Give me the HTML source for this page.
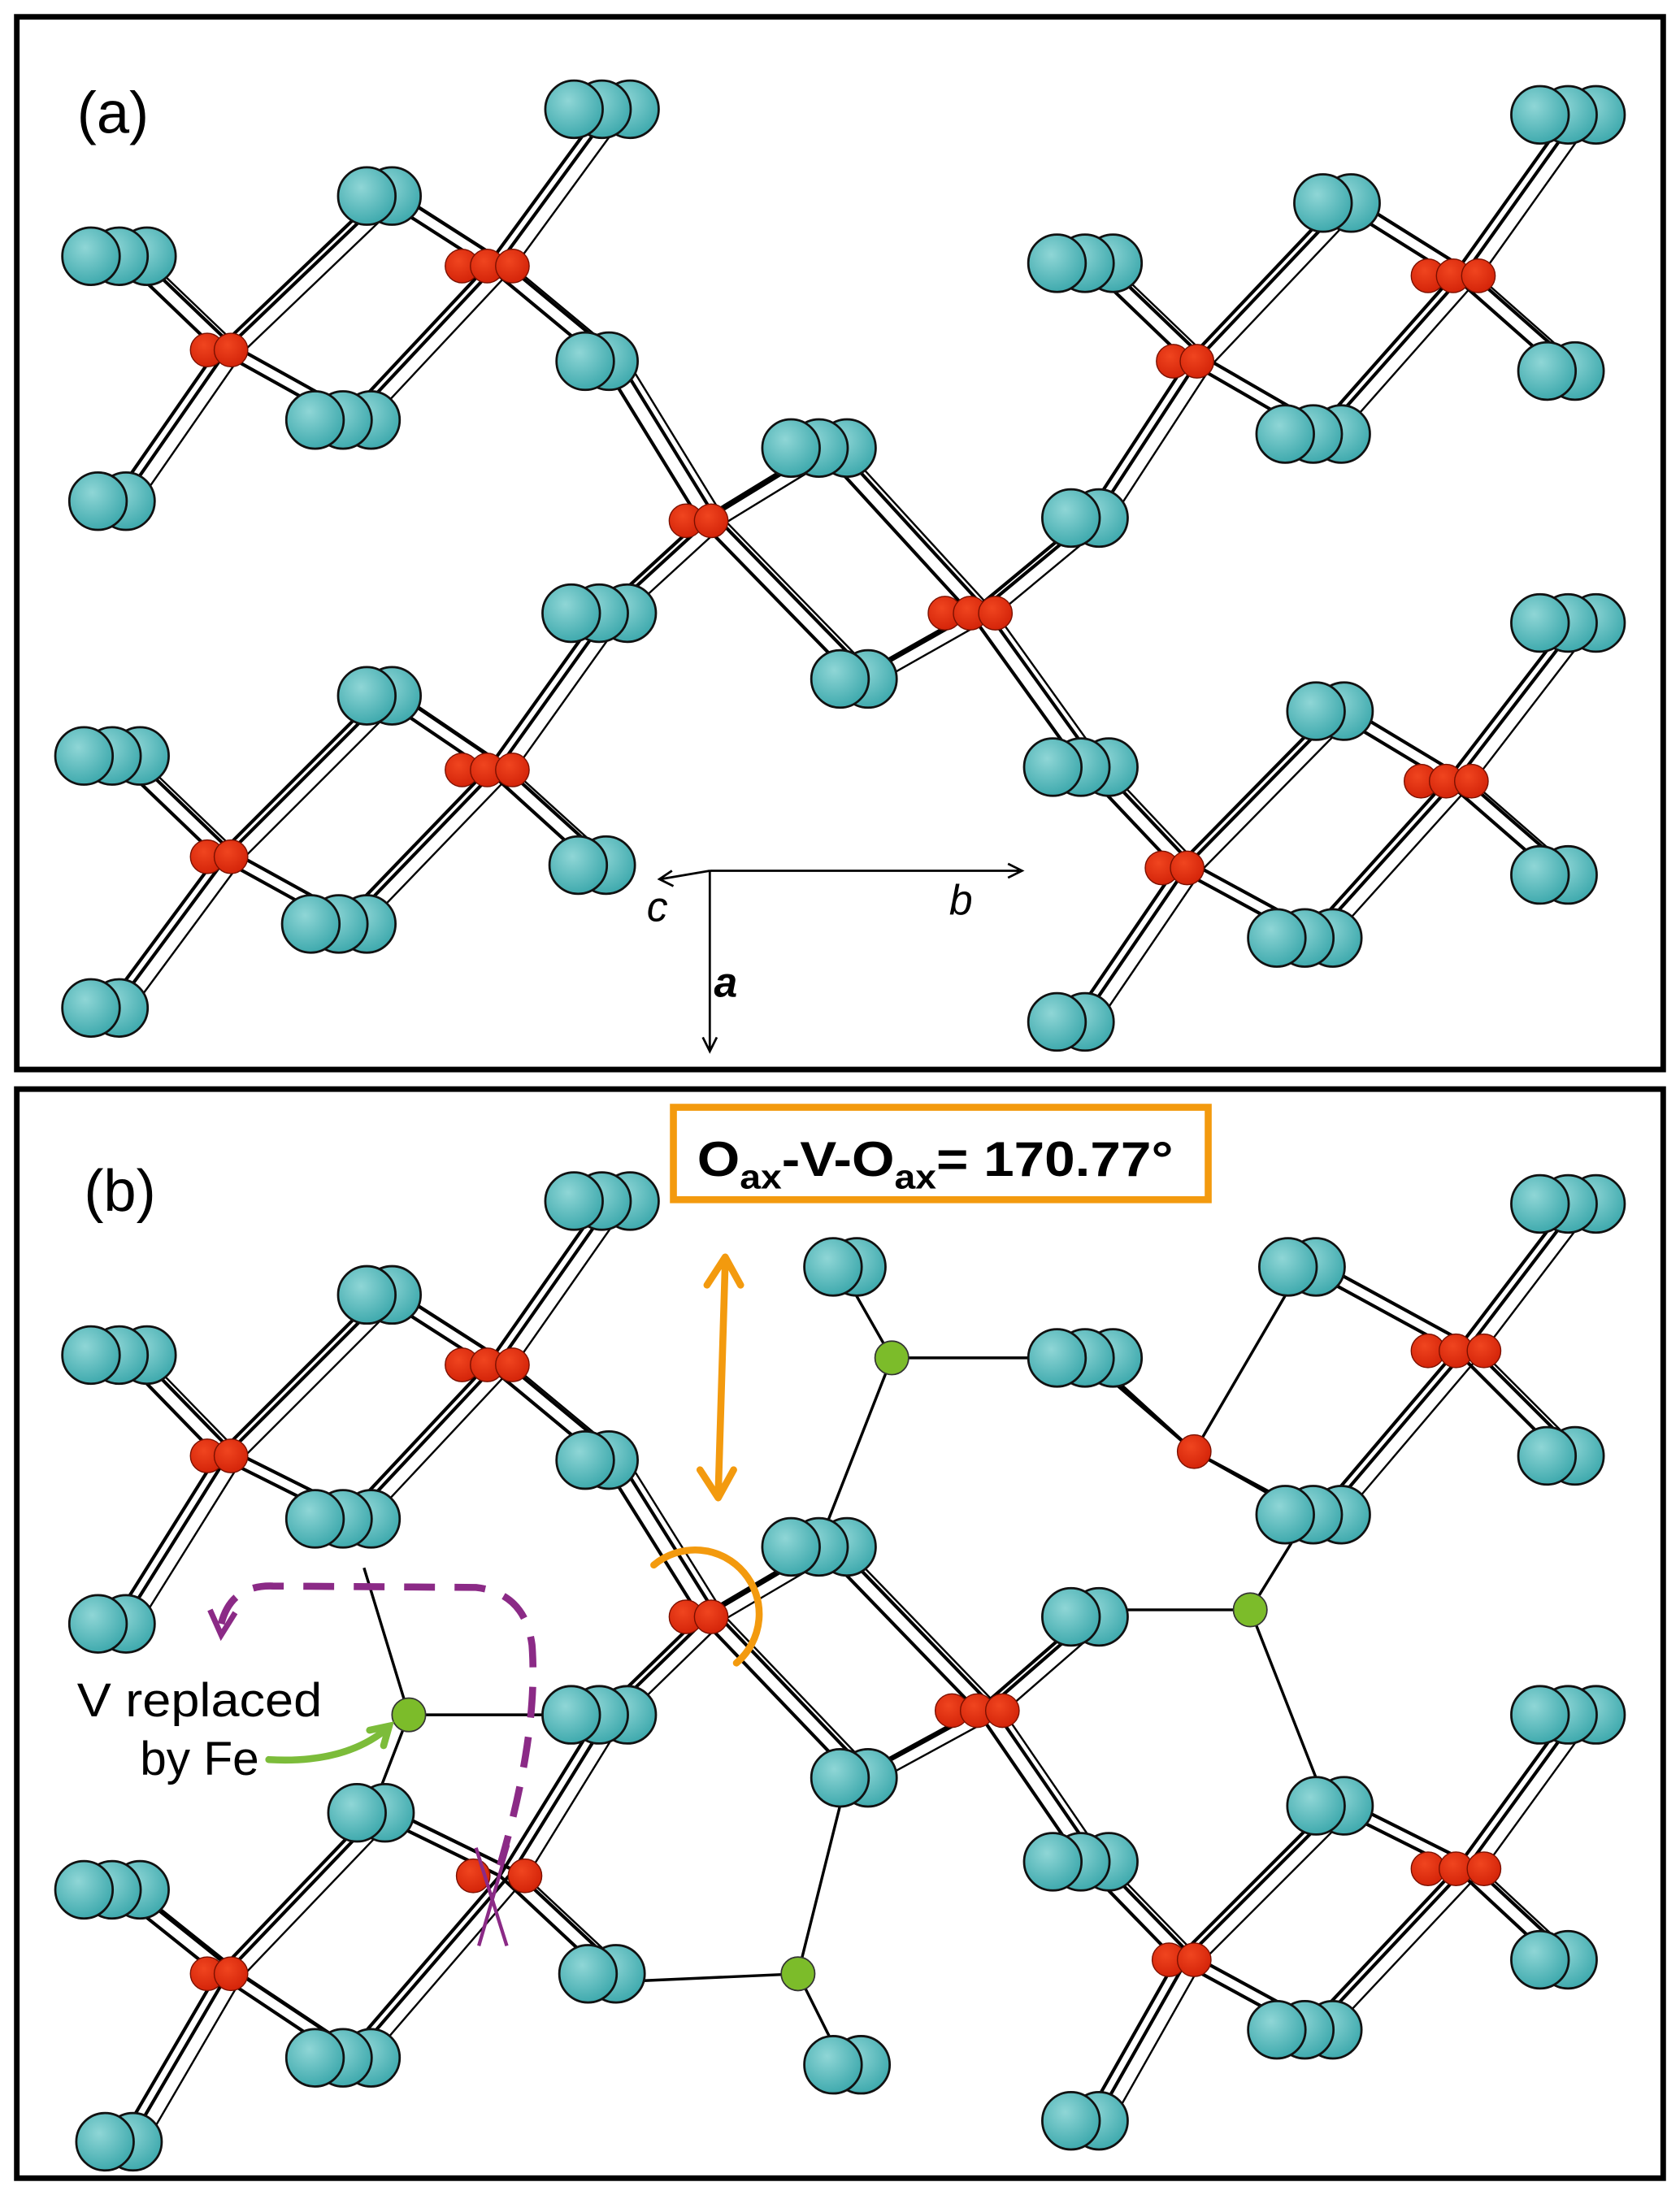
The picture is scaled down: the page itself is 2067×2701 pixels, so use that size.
<!DOCTYPE html>
<html><head><meta charset="utf-8"><style>html,body{margin:0;padding:0;background:#fff}svg{display:block}</style></head>
<body>
<svg width="2067" height="2701" viewBox="0 0 1200 1568" xmlns="http://www.w3.org/2000/svg">
<defs>
<radialGradient id="cg" cx="0.4" cy="0.35" r="0.7"><stop offset="0" stop-color="#8fd6d6"/><stop offset="1" stop-color="#3aa7ab"/></radialGradient>
<radialGradient id="rg" cx="0.4" cy="0.35" r="0.7"><stop offset="0" stop-color="#f0451f"/><stop offset="1" stop-color="#d22208"/></radialGradient>
<symbol id="c" overflow="visible"><circle r="20.5" fill="url(#cg)" stroke="#111" stroke-width="1.6"/></symbol>
<symbol id="r" overflow="visible"><circle r="12" fill="url(#rg)" stroke="#7a1000" stroke-width="0.8"/></symbol>
<symbol id="g" overflow="visible"><circle r="12" fill="#7cbc2a" stroke="#333" stroke-width="1"/></symbol>
</defs>
<rect width="1200" height="1568" fill="#fff"/>

<g id="bonds" stroke="#000" stroke-width="2.4" fill="none">
<path id="bp" d="
M155 250L85 183 M155 250L245 300 M155 250L80 358 M155 250L270 140
M348 190L270 140 M348 190L430 258 M348 190L430 78 M348 190L245 300
M500 372L430 258 M500 372L585 320 M500 372L428 438 M500 372L610 485
M693 438L585 320 M693 438L610 485 M693 438L775 370 M693 438L772 548
M848 258L775 188 M848 258L938 310 M848 258L775 370 M848 258L955 145
M1038 197L955 145 M1038 197L1120 82 M1038 197L1115 265 M1038 197L938 310
M155 612L80 540 M155 612L242 660 M155 612L75 720 M155 612L270 497
M348 550L270 497 M348 550L428 438 M348 550L423 618 M348 550L242 660
M840 620L772 548 M840 620L932 670 M840 620L765 730 M840 620L950 508
M1033 558L950 508 M1033 558L1120 445 M1033 558L1110 625 M1033 558L932 670
M155 1040L85 968 M155 1040L245 1085 M155 1040L80 1160 M155 1040L270 925
M348 975L270 925 M348 975L430 1043 M348 975L430 858 M348 975L245 1085
M500 1155L430 1043 M500 1155L585 1105 M500 1155L428 1225 M500 1155L610 1270
M698 1222L585 1105 M698 1222L610 1270 M698 1222L775 1155 M698 1222L772 1330
M1040 965L930 905 M1040 965L1120 860 M1040 965L1115 1040 M1040 965L938 1085
M840 1400L772 1330 M840 1400L932 1450 M840 1400L775 1515 M840 1400L950 1290
M1040 1335L950 1290 M1040 1335L1120 1225 M1040 1335L1110 1400 M1040 1335L932 1450
M155 1410L80 1350 M155 1410L245 1470 M155 1410L85 1530 M155 1410L265 1295
M357 1340L265 1295 M357 1340L428 1225 M357 1340L432 1410 M357 1340L245 1470"/>
<use href="#bp" transform="translate(10,-4)"/>
<use href="#bp" transform="translate(19,1)" stroke-width="1.4"/>
</g>
<g stroke="#000" stroke-width="2" fill="none">
<path d="M853 1037L775 970 M853 1037L938 1085 M853 1037L930 905
M292 1225L260 1120 M292 1225L408 1225 M292 1225L265 1295
M637 970L755 970 M637 970L600 905 M637 970L590 1090
M893 1150L795 1150 M893 1150L930 1090 M893 1150L940 1270
M570 1410L458 1415 M570 1410L605 1270 M570 1410L600 1470"/>
<path d="M853 1037L785 975 M853 1037L948 1088" stroke-width="2.4"/>
</g>

<g>
<use href="#c" x="450" y="78"/><use href="#c" x="430" y="78"/><use href="#c" x="410" y="78"/>
<use href="#c" x="105" y="183"/><use href="#c" x="85" y="183"/><use href="#c" x="65" y="183"/>
<use href="#c" x="280" y="140"/><use href="#c" x="262" y="140"/>
<use href="#c" x="435" y="258"/><use href="#c" x="418" y="258"/>
<use href="#c" x="265" y="300"/><use href="#c" x="245" y="300"/><use href="#c" x="225" y="300"/>
<use href="#c" x="90" y="358"/><use href="#c" x="70" y="358"/>
<use href="#c" x="605" y="320"/><use href="#c" x="585" y="320"/><use href="#c" x="565" y="320"/>
<use href="#c" x="448" y="438"/><use href="#c" x="428" y="438"/><use href="#c" x="408" y="438"/>
<use href="#c" x="620" y="485"/><use href="#c" x="600" y="485"/>
<use href="#c" x="280" y="497"/><use href="#c" x="262" y="497"/>
<use href="#c" x="100" y="540"/><use href="#c" x="80" y="540"/><use href="#c" x="60" y="540"/>
<use href="#c" x="433" y="618"/><use href="#c" x="413" y="618"/>
<use href="#c" x="262" y="660"/><use href="#c" x="242" y="660"/><use href="#c" x="222" y="660"/>
<use href="#c" x="85" y="720"/><use href="#c" x="65" y="720"/>
<use href="#c" x="1140" y="82"/><use href="#c" x="1120" y="82"/><use href="#c" x="1100" y="82"/>
<use href="#c" x="965" y="145"/><use href="#c" x="945" y="145"/>
<use href="#c" x="795" y="188"/><use href="#c" x="775" y="188"/><use href="#c" x="755" y="188"/>
<use href="#c" x="1125" y="265"/><use href="#c" x="1105" y="265"/>
<use href="#c" x="958" y="310"/><use href="#c" x="938" y="310"/><use href="#c" x="918" y="310"/>
<use href="#c" x="785" y="370"/><use href="#c" x="765" y="370"/>
<use href="#c" x="1140" y="445"/><use href="#c" x="1120" y="445"/><use href="#c" x="1100" y="445"/>
<use href="#c" x="960" y="508"/><use href="#c" x="940" y="508"/>
<use href="#c" x="792" y="548"/><use href="#c" x="772" y="548"/><use href="#c" x="752" y="548"/>
<use href="#c" x="1120" y="625"/><use href="#c" x="1100" y="625"/>
<use href="#c" x="952" y="670"/><use href="#c" x="932" y="670"/><use href="#c" x="912" y="670"/>
<use href="#c" x="775" y="730"/><use href="#c" x="755" y="730"/>

<use href="#c" x="450" y="858"/><use href="#c" x="430" y="858"/><use href="#c" x="410" y="858"/>
<use href="#c" x="105" y="968"/><use href="#c" x="85" y="968"/><use href="#c" x="65" y="968"/>
<use href="#c" x="280" y="925"/><use href="#c" x="262" y="925"/>
<use href="#c" x="435" y="1043"/><use href="#c" x="418" y="1043"/>
<use href="#c" x="265" y="1085"/><use href="#c" x="245" y="1085"/><use href="#c" x="225" y="1085"/>
<use href="#c" x="90" y="1160"/><use href="#c" x="70" y="1160"/>
<use href="#c" x="448" y="1225"/><use href="#c" x="428" y="1225"/><use href="#c" x="408" y="1225"/>
<use href="#c" x="275" y="1295"/><use href="#c" x="255" y="1295"/>
<use href="#c" x="100" y="1350"/><use href="#c" x="80" y="1350"/><use href="#c" x="60" y="1350"/>
<use href="#c" x="440" y="1410"/><use href="#c" x="420" y="1410"/>
<use href="#c" x="265" y="1470"/><use href="#c" x="245" y="1470"/><use href="#c" x="225" y="1470"/>
<use href="#c" x="95" y="1530"/><use href="#c" x="75" y="1530"/>
<use href="#c" x="615" y="1475"/><use href="#c" x="595" y="1475"/>
<use href="#c" x="605" y="1105"/><use href="#c" x="585" y="1105"/><use href="#c" x="565" y="1105"/>
<use href="#c" x="620" y="1270"/><use href="#c" x="600" y="1270"/>
<use href="#c" x="612" y="905"/><use href="#c" x="595" y="905"/>
<use href="#c" x="795" y="970"/><use href="#c" x="775" y="970"/><use href="#c" x="755" y="970"/>
<use href="#c" x="940" y="905"/><use href="#c" x="920" y="905"/>
<use href="#c" x="1140" y="860"/><use href="#c" x="1120" y="860"/><use href="#c" x="1100" y="860"/>
<use href="#c" x="1125" y="1040"/><use href="#c" x="1105" y="1040"/>
<use href="#c" x="958" y="1082"/><use href="#c" x="938" y="1082"/><use href="#c" x="918" y="1082"/>
<use href="#c" x="785" y="1155"/><use href="#c" x="765" y="1155"/>
<use href="#c" x="1140" y="1225"/><use href="#c" x="1120" y="1225"/><use href="#c" x="1100" y="1225"/>
<use href="#c" x="960" y="1290"/><use href="#c" x="940" y="1290"/>
<use href="#c" x="792" y="1330"/><use href="#c" x="772" y="1330"/><use href="#c" x="752" y="1330"/>
<use href="#c" x="1120" y="1400"/><use href="#c" x="1100" y="1400"/>
<use href="#c" x="952" y="1450"/><use href="#c" x="932" y="1450"/><use href="#c" x="912" y="1450"/>
<use href="#c" x="785" y="1515"/><use href="#c" x="765" y="1515"/>
</g>

<g>
<use href="#r" x="148" y="250"/><use href="#r" x="165" y="250"/>
<use href="#r" x="330" y="190"/><use href="#r" x="348" y="190"/><use href="#r" x="366" y="190"/>
<use href="#r" x="490" y="372"/><use href="#r" x="508" y="372"/>
<use href="#r" x="675" y="438"/><use href="#r" x="693" y="438"/><use href="#r" x="711" y="438"/>
<use href="#r" x="838" y="258"/><use href="#r" x="855" y="258"/>
<use href="#r" x="1020" y="197"/><use href="#r" x="1038" y="197"/><use href="#r" x="1056" y="197"/>
<use href="#r" x="148" y="612"/><use href="#r" x="165" y="612"/>
<use href="#r" x="330" y="550"/><use href="#r" x="348" y="550"/><use href="#r" x="366" y="550"/>
<use href="#r" x="830" y="620"/><use href="#r" x="848" y="620"/>
<use href="#r" x="1015" y="558"/><use href="#r" x="1033" y="558"/><use href="#r" x="1051" y="558"/>

<use href="#r" x="148" y="1040"/><use href="#r" x="165" y="1040"/>
<use href="#r" x="330" y="975"/><use href="#r" x="348" y="975"/><use href="#r" x="366" y="975"/>
<use href="#r" x="490" y="1155"/><use href="#r" x="508" y="1155"/>
<use href="#r" x="680" y="1222"/><use href="#r" x="698" y="1222"/><use href="#r" x="716" y="1222"/>
<use href="#r" x="853" y="1037"/>
<use href="#r" x="1020" y="965"/><use href="#r" x="1040" y="965"/><use href="#r" x="1060" y="965"/>
<use href="#r" x="1020" y="1335"/><use href="#r" x="1040" y="1335"/><use href="#r" x="1060" y="1335"/>
<use href="#r" x="835" y="1400"/><use href="#r" x="853" y="1400"/>
<use href="#r" x="148" y="1410"/><use href="#r" x="165" y="1410"/>
<use href="#r" x="338" y="1340"/><use href="#r" x="375" y="1340"/>
</g>
<g>
<use href="#g" x="292" y="1225"/><use href="#g" x="637" y="970"/><use href="#g" x="893" y="1150"/><use href="#g" x="570" y="1410"/>
</g>

<rect x="12" y="12" width="1176" height="752" fill="none" stroke="#000" stroke-width="4"/>
<rect x="12" y="778" width="1176" height="778" fill="none" stroke="#000" stroke-width="4"/>

<text x="55" y="95" font-family="Liberation Sans, sans-serif" font-size="42">(a)</text>
<text x="60" y="865" font-family="Liberation Sans, sans-serif" font-size="42">(b)</text>

<g stroke="#000" stroke-width="1.6" fill="none">
<path d="M507 622H728 M720 617L730 622L720 627"/>
<path d="M507 622L472 628 M480 622L471 628L481 633"/>
<path d="M507 622V750 M502 741L507 751L512 741"/>
</g>
<text x="678" y="653" font-family="Liberation Sans, sans-serif" font-size="30" font-style="italic">b</text>
<text x="462" y="658" font-family="Liberation Sans, sans-serif" font-size="30" font-style="italic">c</text>
<text x="510" y="712" font-family="Liberation Sans, sans-serif" font-size="30" font-style="italic" font-weight="bold">a</text>

<rect x="481" y="791" width="382" height="66" fill="#fff" stroke="#f39a0e" stroke-width="5"/>
<text x="498" y="840" font-family="Liberation Sans, sans-serif" font-size="35" font-weight="bold" textLength="340" lengthAdjust="spacingAndGlyphs">O<tspan font-size="24" dy="9">ax</tspan><tspan dy="-9">-V-O</tspan><tspan font-size="24" dy="9">ax</tspan><tspan dy="-9">= 170.77°</tspan></text>
<g stroke="#f39a0e" stroke-width="5" fill="none" stroke-linecap="round" stroke-linejoin="round">
<path d="M518 902L513 1068 M505 918L518 898L529 918 M500 1050L513 1070L524 1050"/>
<path d="M467 1118 A45 45 0 1 1 526 1188"/>
</g>

<g stroke="#8b2a86" stroke-width="5" fill="none">
<path d="M158 1160 Q165 1132 195 1133 L340 1134 Q375 1138 380 1175 Q385 1240 355 1340" stroke-dasharray="22 14"/>
<path d="M150 1150L158 1168L168 1152" stroke-width="4"/>
</g>
<g stroke="#8b2a86" stroke-width="2.5"><path d="M340 1320L362 1390 M363 1318L342 1390"/></g>

<text x="230" y="1226" text-anchor="end" font-family="Liberation Sans, sans-serif" font-size="34" textLength="175" lengthAdjust="spacingAndGlyphs">V replaced</text>
<text x="185" y="1268" text-anchor="end" font-family="Liberation Sans, sans-serif" font-size="34">by Fe</text>
<g stroke="#7cbc3a" stroke-width="5" fill="none" stroke-linecap="round">
<path d="M192 1257 Q245 1260 275 1236"/>
<path d="M264 1236L278 1233L274 1247"/>
</g>
</svg>
</body></html>
